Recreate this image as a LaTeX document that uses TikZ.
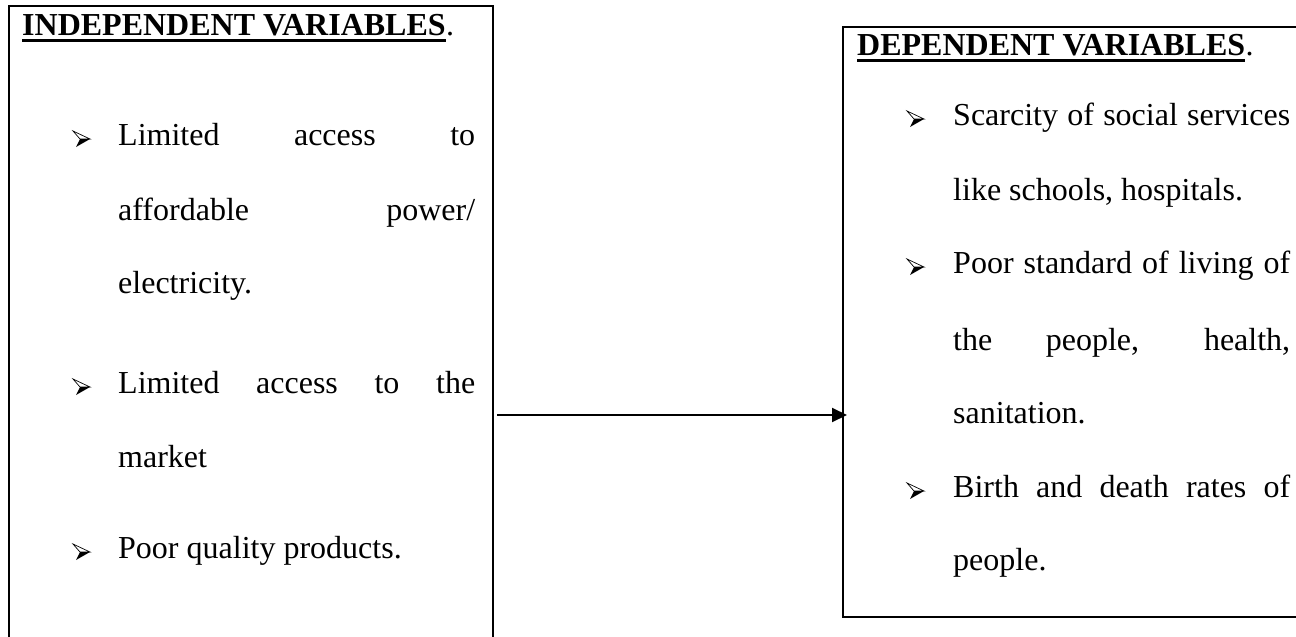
\documentclass[tikz,border=0pt]{standalone}
\usepackage{fontspec}
\setmainfont{Liberation Serif}
\usetikzlibrary{arrows.meta}
\begin{document}
\begin{tikzpicture}[x=1pt,y=-1pt,
  box/.style={draw,line width=2pt,rectangle,inner sep=0pt,anchor=north west},
  txt/.style={anchor=base west,inner sep=0pt,font=\fontsize{32}{38}\selectfont},
  ttl/.style={anchor=base west,inner sep=0pt,font=\fontsize{32}{38}\selectfont\bfseries},
  ul/.style={line width=3pt},
  conn/.style={line width=2pt,-{Triangle[length=15pt,width=14pt]}},
  arrbullet/.pic={
    \fill[black] (7,-6) -- (17,-6) -- (3,2) -- cycle;
    \draw[line width=0.7pt,line join=miter] (0,-14) -- (17,-6) -- (7,-6) -- cycle;
  }
]
\useasboundingbox (0,0) rectangle (1296,637);
\clip (0,0) rectangle (1296,637);

% boxes
\node[box,minimum width=484pt,minimum height=660pt] (L) at (8,5) {};
\node[box,minimum width=500pt,minimum height=590pt] (R) at (842,26) {};

% left title
\node[ttl] (lt) at (22,35) {INDEPENDENT VARIABLES};
\node[txt] (ltp) at (lt.base east) {.};
\draw[ul] ([yshift=-5pt]lt.base west) -- ([yshift=-5pt]lt.base east);

% left items
\pic at (73,145) {arrbullet};
\node[txt] (l1) at (118,145) {\makebox[357pt][s]{Limited access to}};
\node[txt] (l2) at (118,220) {\makebox[357pt][s]{affordable power/}};
\node[txt] (l3) at (118,293) {electricity.};
\pic at (73,393) {arrbullet};
\node[txt] (l4) at (118,393) {\makebox[357pt][s]{Limited access to the}};
\node[txt] (l5) at (118,467) {market};
\pic at (73,558) {arrbullet};
\node[txt] (l6) at (118,558) {Poor quality products.};

% right title
\node[ttl] (rt) at (857,55) {DEPENDENT VARIABLES};
\node[txt] (rtp) at (rt.base east) {.};
\draw[ul] ([yshift=-5pt]rt.base west) -- ([yshift=-5pt]rt.base east);

% right items
\pic at (907,125) {arrbullet};
\node[txt] (r1) at (953,125) {\makebox[337pt][s]{Scarcity of social services}};
\node[txt] (r2) at (953,200) {like schools, hospitals.};
\pic at (907,273) {arrbullet};
\node[txt] (r3) at (953,273) {\makebox[337pt][s]{Poor standard of living of}};
\node[txt] (r4) at (953,350) {\makebox[337pt][s]{the people, health,}};
\node[txt] (r5) at (953,423) {sanitation.};
\pic at (907,497) {arrbullet};
\node[txt] (r6) at (953,497) {\makebox[337pt][s]{Birth and death rates of}};
\node[txt] (r7) at (953,570) {people.};

% connector
\coordinate (ay) at (0,415);
\draw[conn] ([xshift=3pt]L.east |- ay) -- ([xshift=5pt]R.west |- ay);
\end{tikzpicture}
\end{document}
